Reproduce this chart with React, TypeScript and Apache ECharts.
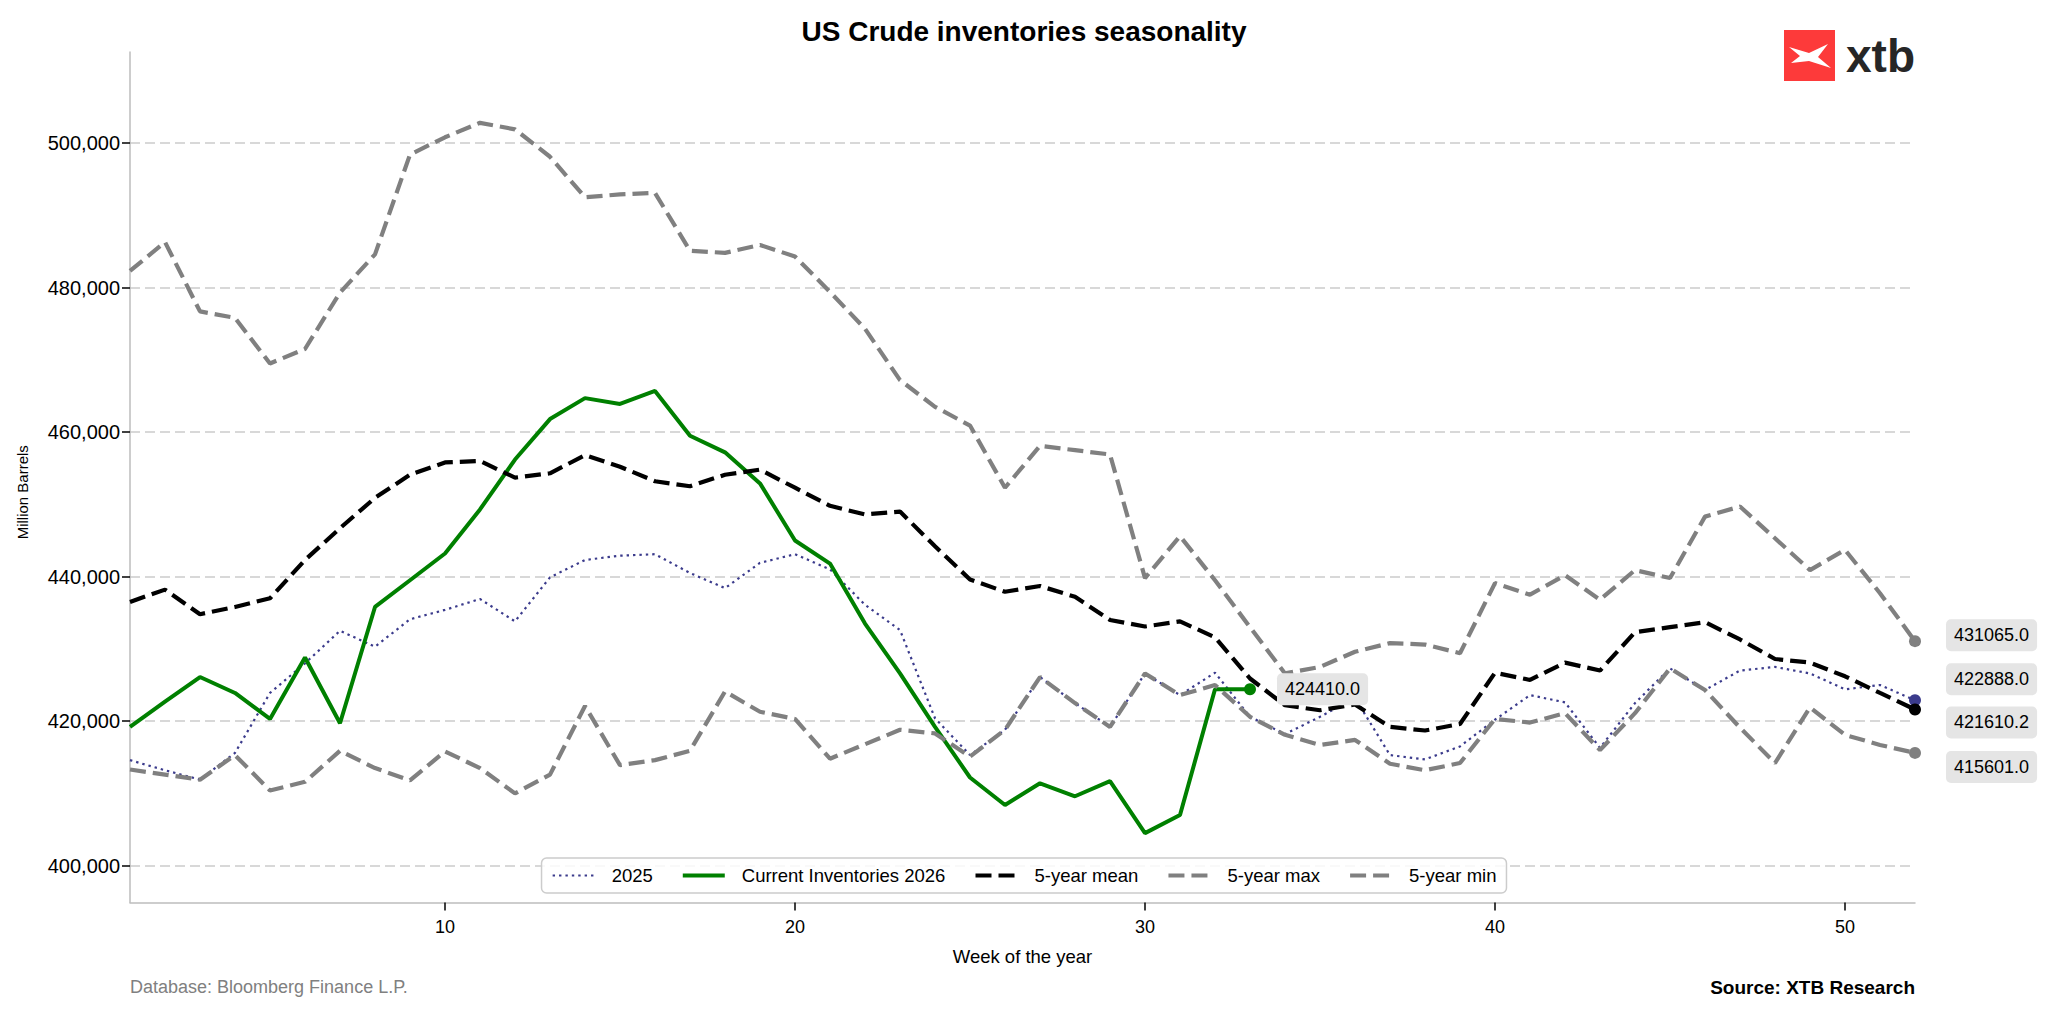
import { useEffect, useRef } from "react";
import * as echarts from "echarts";

// Weekly US crude inventories, thousand barrels.
const WEEKS = [
  1, 2, 3, 4, 5, 6, 7, 8, 9, 10, 11, 12, 13, 14, 15, 16, 17, 18, 19, 20, 21, 22, 23, 24, 25, 26,
  27, 28, 29, 30, 31, 32, 33, 34, 35, 36, 37, 38, 39, 40, 41, 42, 43, 44, 45, 46, 47, 48, 49, 50, 51, 52,
];
const X_TICKS = [10, 20, 30, 40, 50];
const Y_TICKS = [400000, 420000, 440000, 460000, 480000, 500000];

const CUR_2026 = [
  419.2, 422.7, 426.1, 423.9, 420.3, 428.8, 419.7, 435.8, 439.5, 443.2, 449.3, 456.2, 461.8, 464.7, 463.9,
  465.7, 459.5, 457.2, 452.9, 445.0, 441.8, 433.5, 426.6, 419.2, 412.2, 408.4, 411.4, 409.6, 411.7, 404.5,
  407.0, 424.4, 424.41,
];
const Y2025 = [
  414.6, 413.2, 411.9, 415.6, 423.9, 428.0, 432.5, 430.3, 434.1, 435.4, 436.9, 433.8, 439.9, 442.3, 442.9,
  443.1, 440.5, 438.4, 441.9, 443.1, 441.0, 436.1, 432.6, 420.4, 415.3, 418.8, 426.1, 422.5, 419.2, 426.6,
  423.6, 426.7, 420.6, 418.2, 420.6, 423.2, 415.3, 414.7, 416.5, 420.2, 423.6, 422.6, 416.3, 422.5, 427.3,
  424.3, 427.0, 427.5, 426.6, 424.4, 425.0, 422.888,
];
const MEAN_5Y = [
  436.5, 438.2, 434.8, 435.8, 437.0, 442.3, 446.7, 450.9, 454.1, 455.8, 456.0, 453.7, 454.3, 456.8, 455.2,
  453.2, 452.5, 454.1, 454.8, 452.3, 449.8, 448.6, 449.0, 444.2, 439.6, 437.9, 438.7, 437.2, 434.0, 433.1,
  433.8, 431.6, 425.9, 422.2, 421.5, 422.3, 419.2, 418.7, 419.6, 426.7, 425.7, 428.1, 427.0, 432.3, 433.0,
  433.7, 431.3, 428.6, 428.1, 426.2, 423.9, 421.6102,
];
const MAX_5Y = [
  482.3, 486.3, 476.7, 475.8, 469.5, 471.5, 479.3, 484.6, 498.4, 500.8, 502.8, 501.9, 498.1, 492.5, 492.9,
  493.1, 485.1, 484.8, 485.9, 484.3, 479.4, 474.3, 467.2, 463.5, 460.9, 452.3, 458.1, 457.5, 456.9, 439.8,
  445.6, 439.5, 433.0, 426.6, 427.5, 429.6, 430.8, 430.6, 429.4, 439.1, 437.5, 440.2, 436.8, 440.9, 439.8,
  448.3, 449.7, 445.3, 440.9, 443.7, 437.7, 431.065,
];
const MIN_5Y = [
  413.3, 412.6, 411.9, 415.3, 410.4, 411.6, 415.9, 413.5, 411.8, 415.8, 413.5, 410.0, 412.6, 422.1, 413.9,
  414.6, 415.9, 424.1, 421.3, 420.3, 414.8, 416.8, 418.8, 418.3, 415.1, 418.8, 426.1, 422.5, 419.2, 426.6,
  423.6, 425.0, 420.6, 418.1, 416.7, 417.4, 414.1, 413.2, 414.2, 420.3, 419.8, 421.1, 416.0, 421.1, 427.3,
  424.3, 419.1, 414.2, 421.9, 418.1, 416.7, 415.601,
];

const FONT = '"Liberation Sans", Arial, Helvetica, sans-serif';
const GREEN = "#008000";
const NAVY = "#3b3b8c";
const GREY = "#808080";

// Last point of a line gets a dot and a grey value box to the right.
function toPoints(vals: number[], color: string, dy: number, distance: number) {
  return vals.map((v, i) => {
    const value = [WEEKS[i], v * 1000];
    if (i < vals.length - 1) return value;
    return {
      value,
      symbol: "circle",
      symbolSize: 12,
      itemStyle: { color },
      label: {
        show: true,
        position: "right",
        distance,
        offset: [0, dy],
        formatter: () => (v * 1000).toFixed(1),
        backgroundColor: "#e5e5e5",
        borderRadius: 5,
        padding: [6, 8],
        color: "#000",
        fontSize: 18,
        lineHeight: 20,
        fontFamily: FONT,
      },
    };
  });
}

export default function App() {
  const elRef = useRef<HTMLDivElement | null>(null);

  useEffect(() => {
    document.body.style.margin = "0";
    if (!elRef.current) return;
    const chart = echarts.init(elRef.current, undefined, { renderer: "svg" });

    const dashed = (color: string) => ({ color, width: 4.2, type: [16, 7] as number[], cap: "butt" });

    chart.setOption({
      animation: false,
      backgroundColor: "#fff",
      textStyle: { fontFamily: FONT, color: "#000" },
      title: {
        text: "US Crude inventories seasonality",
        left: "center",
        top: 12,
        textStyle: { fontSize: 28, fontWeight: "bold", color: "#000", fontFamily: FONT },
      },
      grid: { left: 130, right: 133, top: 52, bottom: 112.5 },
      legend: {
        left: "center",
        top: 858,
        itemWidth: 42,
        itemHeight: 14,
        itemGap: 28,
        padding: [8, 10],
        backgroundColor: "rgba(255,255,255,0.85)",
        borderColor: "#cccccc",
        borderWidth: 1.5,
        borderRadius: 5,
        itemStyle: { opacity: 0 },
        lineStyle: { width: "inherit" },
        textStyle: { fontSize: 18.5, color: "#000", fontFamily: FONT, padding: [0, 0, 0, 12] },
        data: ["2025", "Current Inventories 2026", "5-year mean", "5-year max", "5-year min"],
      },
      xAxis: {
        type: "value",
        min: 1,
        max: 52,
        name: "Week of the year",
        nameLocation: "middle",
        nameGap: 44,
        nameTextStyle: { fontSize: 18.5, color: "#000", fontFamily: FONT },
        axisLine: { show: true, lineStyle: { color: "#bdbdbd", width: 1.5 } },
        axisTick: { show: true, length: 8, lineStyle: { color: "#000", width: 1.5 }, customValues: X_TICKS },
        axisLabel: { customValues: X_TICKS, fontSize: 18, color: "#000", margin: 15, fontFamily: FONT },
        splitLine: { show: false },
      },
      yAxis: {
        type: "value",
        min: 394900,
        max: 512600,
        name: "Million Barrels",
        nameLocation: "middle",
        nameGap: 100,
        nameTextStyle: { fontSize: 15, color: "#000", fontFamily: FONT, padding: [0, 30, 0, 0] },
        axisLine: { show: true, lineStyle: { color: "#bdbdbd", width: 1.5 } },
        axisTick: { show: true, length: 8, lineStyle: { color: "#000", width: 1.5 }, customValues: Y_TICKS },
        axisLabel: {
          customValues: Y_TICKS,
          fontSize: 20,
          color: "#000",
          margin: 10,
          fontFamily: FONT,
          formatter: (v: number) => v.toLocaleString("en-US"),
        },
        splitLine: { show: true, lineStyle: { color: "#cccccc", width: 1.5, type: [10, 5] } },
      },
      series: [
        {
          name: "2025",
          type: "line",
          symbol: "none",
          color: NAVY,
          lineStyle: { color: NAVY, width: 2.2, type: [2.4, 4] },
          data: toPoints(Y2025, NAVY, -21, 25),
        },
        {
          name: "Current Inventories 2026",
          type: "line",
          symbol: "none",
          color: GREEN,
          lineStyle: { color: GREEN, width: 4 },
          data: toPoints(CUR_2026, GREEN, 0, 21),
        },
        {
          name: "5-year mean",
          type: "line",
          symbol: "none",
          color: "#000",
          lineStyle: dashed("#000"),
          data: toPoints(MEAN_5Y, "#000", 13, 25),
        },
        {
          name: "5-year max",
          type: "line",
          symbol: "none",
          color: GREY,
          lineStyle: dashed(GREY),
          data: toPoints(MAX_5Y, GREY, -6, 25),
        },
        {
          name: "5-year min",
          type: "line",
          symbol: "none",
          color: GREY,
          lineStyle: dashed(GREY),
          data: toPoints(MIN_5Y, GREY, 14, 25),
        },
      ],
      graphic: [
        {
          type: "text",
          x: 130,
          y: 987,
          style: {
            text: "Database: Bloomberg Finance L.P.",
            fill: "#808080",
            font: `18px ${FONT}`,
            verticalAlign: "middle",
          },
        },
        {
          type: "text",
          x: 1915,
          y: 987,
          style: {
            text: "Source: XTB Research",
            fill: "#000",
            font: `bold 19px ${FONT}`,
            align: "right",
            verticalAlign: "middle",
          },
        },
        {
          type: "group",
          x: 1784,
          y: 30,
          children: [
            { type: "rect", shape: { x: 0, y: 0, width: 51, height: 51 }, style: { fill: "#fd3a3a" } },
            {
              type: "polygon",
              shape: {
                points: [
                  [5, 17], [25, 23], [44, 14], [34, 27], [47, 38], [25, 31], [7, 33], [16, 26],
                ],
              },
              style: { fill: "#fff" },
            },
            {
              type: "text",
              x: 62,
              y: 26,
              style: {
                text: "xtb",
                fill: "#262626",
                font: `600 46px ${FONT}`,
                verticalAlign: "middle",
              },
            },
          ],
        },
      ],
    });

    return () => chart.dispose();
  }, []);

  return <div ref={elRef} style={{ width: 2048, height: 1015 }} />;
}
